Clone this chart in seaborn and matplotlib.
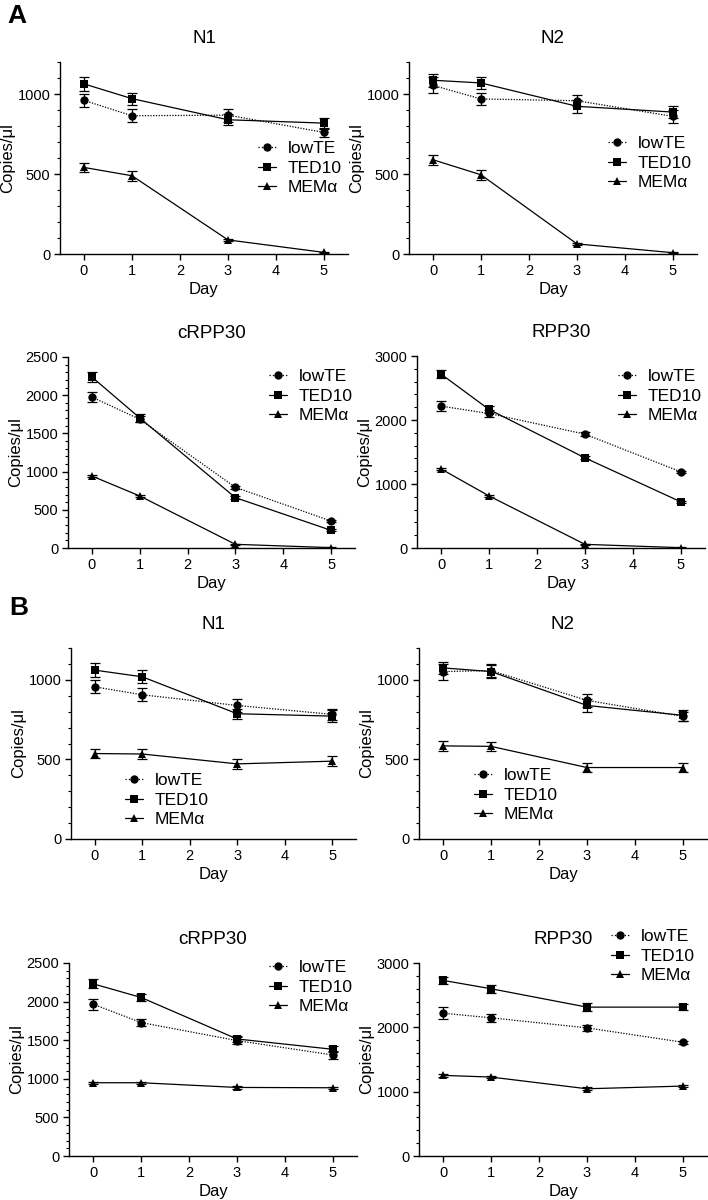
import numpy as np
import pandas as pd
import matplotlib
matplotlib.use("Agg")
import matplotlib.pyplot as plt
from matplotlib.lines import Line2D
from matplotlib.ticker import MultipleLocator
import seaborn as sns

sns.set_theme(style="ticks", rc={
    "axes.edgecolor": "black", "xtick.color": "black", "ytick.color": "black",
    "text.color": "black", "axes.labelcolor": "black",
})
plt.rcParams["font.family"] = ["Liberation Sans", "DejaVu Sans"]

# ---------------- data ----------------
days = [0, 1, 3, 5]
series = ["lowTE", "TED10", "MEMα"]

# Panel A
a_n1_lowte = [960, 864, 868, 760];     a_n1_lowte_err = [40, 40, 40, 30]
a_n1_ted10 = [1063, 971, 839, 818];    a_n1_ted10_err = [45, 38, 35, 35]
a_n1_mem = [541, 489, 88, 10];         a_n1_mem_err = [28, 30, 6, 4]

a_n2_lowte = [1054, 969, 958, 860];    a_n2_lowte_err = [50, 40, 35, 40]
a_n2_ted10 = [1086, 1069, 923, 887];   a_n2_ted10_err = [40, 35, 40, 35]
a_n2_mem = [589, 495, 63, 8];          a_n2_mem_err = [30, 30, 6, 4]

a_c_lowte = [1976, 1684, 794, 353];    a_c_lowte_err = [60, 40, 20, 15]
a_c_ted10 = [2238, 1702, 659, 231];    a_c_ted10_err = [70, 50, 20, 15]
a_c_mem = [942, 681, 48, 5];           a_c_mem_err = [15, 15, 5, 3]

a_r_lowte = [2217, 2102, 1779, 1189];  a_r_lowte_err = [80, 60, 30, 20]
a_r_ted10 = [2718, 2165, 1408, 720];   a_r_ted10_err = [60, 50, 25, 20]
a_r_mem = [1236, 814, 57, 5];          a_r_mem_err = [20, 15, 5, 3]

# Panel B
b_n1_lowte = [956, 906, 839, 783];     b_n1_lowte_err = [40, 40, 40, 35]
b_n1_ted10 = [1061, 1019, 787, 772];   b_n1_ted10_err = [45, 40, 30, 40]
b_n1_mem = [537, 534, 472, 489];       b_n1_mem_err = [30, 30, 30, 30]

b_n2_lowte = [1052, 1058, 871, 770];   b_n2_lowte_err = [50, 40, 40, 30]
b_n2_ted10 = [1075, 1052, 839, 777];   b_n2_ted10_err = [40, 40, 40, 35]
b_n2_mem = [585, 582, 449, 449];       b_n2_mem_err = [30, 30, 28, 28]

b_c_lowte = [1967, 1729, 1495, 1308];  b_c_lowte_err = [70, 50, 40, 50]
b_c_ted10 = [2231, 2054, 1516, 1382];  b_c_ted10_err = [60, 40, 40, 40]
b_c_mem = [949, 949, 888, 884];        b_c_mem_err = [15, 15, 15, 15]

b_r_lowte = [2220, 2148, 1992, 1768];  b_r_lowte_err = [90, 60, 50, 20]
b_r_ted10 = [2730, 2600, 2314, 2314];  b_r_ted10_err = [60, 60, 60, 50]
b_r_mem = [1253, 1227, 1045, 1087];    b_r_mem_err = [20, 20, 20, 20]

titles = ["N1", "N2", "cRPP30", "RPP30", "N1", "N2", "cRPP30", "RPP30"]
panel_values = [
    (a_n1_lowte, a_n1_ted10, a_n1_mem), (a_n2_lowte, a_n2_ted10, a_n2_mem),
    (a_c_lowte, a_c_ted10, a_c_mem), (a_r_lowte, a_r_ted10, a_r_mem),
    (b_n1_lowte, b_n1_ted10, b_n1_mem), (b_n2_lowte, b_n2_ted10, b_n2_mem),
    (b_c_lowte, b_c_ted10, b_c_mem), (b_r_lowte, b_r_ted10, b_r_mem),
]
panel_errors = [
    (a_n1_lowte_err, a_n1_ted10_err, a_n1_mem_err), (a_n2_lowte_err, a_n2_ted10_err, a_n2_mem_err),
    (a_c_lowte_err, a_c_ted10_err, a_c_mem_err), (a_r_lowte_err, a_r_ted10_err, a_r_mem_err),
    (b_n1_lowte_err, b_n1_ted10_err, b_n1_mem_err), (b_n2_lowte_err, b_n2_ted10_err, b_n2_mem_err),
    (b_c_lowte_err, b_c_ted10_err, b_c_mem_err), (b_r_lowte_err, b_r_ted10_err, b_r_mem_err),
]
y_max = [1200, 1200, 2500, 3000, 1200, 1200, 2500, 3000]
y_major = [500, 500, 500, 1000, 500, 500, 500, 1000]
y_minor = [100, 100, 100, 200, 100, 100, 100, 200]

# ---------------- layout (pixels) ----------------
W, H = 708, 1200
# (left, right, top, bottom)
axes_px = [
    (60, 348, 62, 254), (409, 697, 62, 254),
    (68, 355, 357, 548), (417, 705, 356, 548),
    (71, 356, 648, 839), (419, 707, 648, 839),
    (69, 357, 963, 1156), (419, 707, 963, 1156),
]
# legend: handle-left x, first-row centre y
legend_px = [(258, 151), (608, 146), (269, 379), (618, 379),
             (125, 783), (474, 778), (269, 970), (611, 939)]

markers = {"lowTE": "o", "TED10": "s", "MEMα": "^"}
dashes = {"lowTE": (1, 1.2), "TED10": "", "MEMα": ""}
palette = {s: "black" for s in series}
LW = 0.9
MS = 6.0
LEG_FS = 12.5

fig = plt.figure(figsize=(W / 100, H / 100), dpi=100)

for i in range(8):
    l, r, t, b = axes_px[i]
    ax = fig.add_axes([l / W, 1 - b / H, (r - l) / W, (b - t) / H])
    rows = []
    for s, vals in zip(series, panel_values[i]):
        for d, v in zip(days, vals):
            rows.append({"Day": d, "Copies": v, "Series": s})
    df = pd.DataFrame(rows)
    sns.lineplot(data=df, x="Day", y="Copies", hue="Series", style="Series",
                 palette=palette, markers=markers, dashes=dashes,
                 markersize=MS, markeredgewidth=0, linewidth=LW,
                 legend=False, ax=ax)
    for s, vals, errs in zip(series, panel_values[i], panel_errors[i]):
        ax.errorbar(days, vals, yerr=errs, fmt="none", ecolor="black",
                    elinewidth=LW, capsize=3.5, capthick=LW, zorder=1)
    ax.set_xlim(-0.5, 5.5)
    ax.set_ylim(0, y_max[i])
    ax.set_xticks([0, 1, 2, 3, 4, 5])
    ax.yaxis.set_major_locator(MultipleLocator(y_major[i]))
    ax.yaxis.set_minor_locator(MultipleLocator(y_minor[i]))
    sns.despine(ax=ax)
    for sp in ("left", "bottom"):
        ax.spines[sp].set_linewidth(1.0)
    ax.tick_params(which="major", length=4, width=1.0, labelsize=10.5, pad=3)
    ax.tick_params(which="minor", length=2.5, width=0.8)
    ax.set_xlabel("Day", fontsize=12, labelpad=3)
    ax.set_ylabel("Copies/μl", fontsize=12, labelpad=1.5)
    ax.set_title(titles[i], fontsize=13.5, pad=14)

    handles = [Line2D([], [], color="black", marker=markers[s],
                      linestyle=(":" if s == "lowTE" else "-"), lw=LW,
                      markersize=MS, markeredgewidth=0) for s in series]
    hx, hy = legend_px[i]
    ax.legend(handles, series, loc="upper left",
              bbox_to_anchor=(hx / W, 1 - (hy - 10) / H),
              bbox_transform=fig.transFigure, frameon=False, fontsize=LEG_FS,
              handlelength=1.05, handletextpad=0.65, labelspacing=0.25,
              borderpad=0, borderaxespad=0)

fig.text(7 / W, 1 - 4 / H, "A", fontsize=19, fontweight="bold", va="top", ha="left")
fig.text(9 / W, 1 - 596 / H, "B", fontsize=19, fontweight="bold", va="top", ha="left")

fig.savefig("out.png", dpi=100)
